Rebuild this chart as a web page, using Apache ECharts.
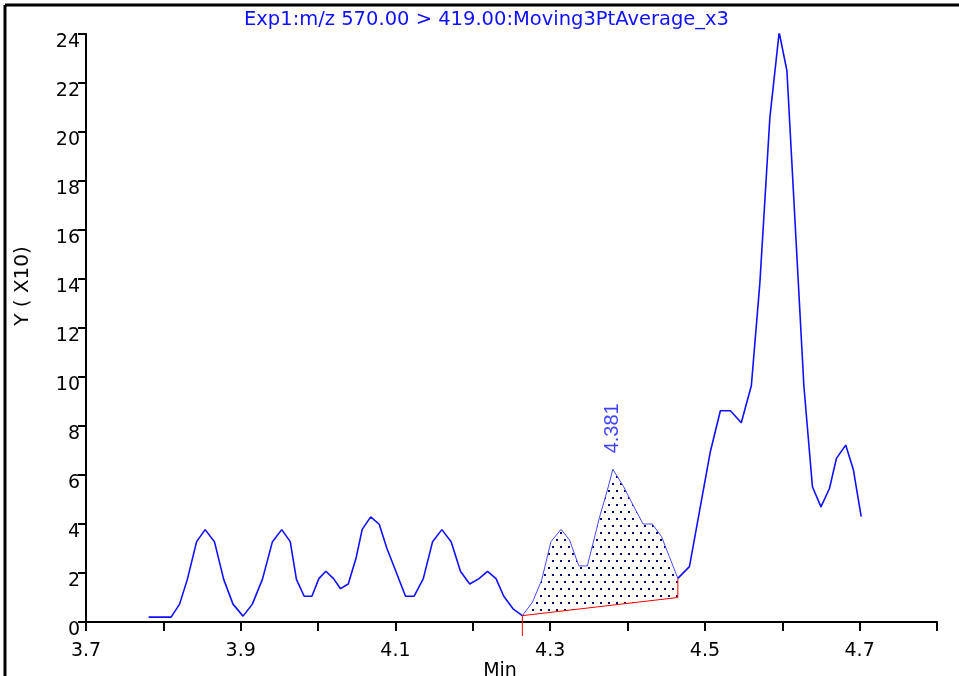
<!DOCTYPE html>
<html>
<head>
<meta charset="utf-8">
<script src="https://cdn.jsdelivr.net/npm/echarts@6/dist/echarts.min.js"></script>
<style>html,body{margin:0;padding:0;background:#fff}#c{width:959px;height:676px}</style>
</head>
<body>
<div id="c"></div>
<script>
// ---- data ----
const titleText = 'Exp1:m/z 570.00 > 419.00:Moving3PtAverage_x3';
const yAxisName = 'Y ( X10)';
const xAxisName = 'Min';
const times = [3.781,3.810,3.821,3.831,3.843,3.854,3.866,3.878,3.890,3.903,3.915,3.928,3.941,3.953,3.964,3.972,3.982,3.992,4.001,4.010,4.020,4.029,4.039,4.049,4.057,4.068,4.079,4.089,4.101,4.113,4.124,4.136,4.148,4.160,4.172,4.184,4.196,4.208,4.219,4.230,4.240,4.252,4.264,4.277,4.289,4.301,4.314,4.325,4.337,4.348,4.364,4.374,4.381,4.395,4.407,4.420,4.432,4.444,4.454,4.465,4.480,4.507,4.520,4.533,4.547,4.560,4.571,4.584,4.596,4.606,4.628,4.639,4.650,4.661,4.670,4.682,4.692,4.702];
const intensities = [0.2,0.2,0.73,1.74,3.28,3.77,3.28,1.74,0.73,0.24,0.73,1.74,3.28,3.77,3.28,1.74,1.05,1.05,1.77,2.07,1.77,1.36,1.55,2.6,3.78,4.29,3.99,3.0,2.03,1.05,1.05,1.77,3.28,3.77,3.28,2.07,1.55,1.77,2.07,1.77,1.05,0.54,0.26,0.80,1.71,3.28,3.78,3.35,2.29,2.29,4.30,5.39,6.23,5.52,4.78,4.0,4.0,3.48,2.67,1.78,2.26,6.95,8.62,8.62,8.13,9.64,13.82,20.6,24.07,22.5,9.6,5.52,4.7,5.45,6.68,7.22,6.2,4.3];
const integStartTime = 4.264, integEndTime = 4.465;
const baselineStartValue = 0.26, baselineEndValue = 1.0;
const startMarkerBottom = -0.57;
const peakTime = 4.381, peakValue = 6.23, peakLabel = '4.381';
const xMin = 3.7, xMax = 4.8, xInterval = 0.1;
const yMin = 0, yMax = 24, yInterval = 2;

// ---- build ----
const allPts = times.map((t, i) => [t, intensities[i]]);
const prePts = allPts.filter(p => p[0] <= integStartTime);
const postPts = allPts.filter(p => p[0] >= integEndTime);
const peakPts = allPts.filter(p => p[0] >= integStartTime && p[0] <= integEndTime);

const pc = document.createElement('canvas');
pc.width = 8; pc.height = 14;
const pctx = pc.getContext('2d');
pctx.fillStyle = '#000070';
pctx.fillRect(0, 0, 2, 2);
pctx.fillRect(4, 7, 2, 2);

const BLUE = '#1010ff';
const FONT = '"DejaVu Sans", Verdana, sans-serif';
const FONT2 = '"Liberation Sans", Arial, sans-serif';

const chart = echarts.init(document.getElementById('c'), null, {renderer: 'canvas'});
chart.setOption({
  animation: false,
  backgroundColor: '#fff',
  title: {
    text: titleText, left: 244, top: 10, padding: 0,
    textStyle: {color: BLUE, fontSize: 19.5, fontWeight: 'normal', fontFamily: FONT}
  },
  grid: {left: 86, right: 22, top: 34, bottom: 54},
  xAxis: {
    type: 'value', min: xMin, max: xMax, interval: xInterval,
    axisLine: {show: true, lineStyle: {color: '#000', width: 2}},
    axisTick: {show: true, length: 9, lineStyle: {color: '#000', width: 2}},
    axisLabel: {
      color: '#000', fontSize: 19, fontFamily: FONT, margin: 20,
      formatter: v => (Math.round(v * 10) % 2 === 1 ? v.toFixed(1) : '')
    },
    splitLine: {show: false}
  },
  yAxis: {
    type: 'value', min: yMin, max: yMax, interval: yInterval,
    axisLine: {show: true, lineStyle: {color: '#000', width: 2}},
    axisTick: {show: true, length: 8, lineStyle: {color: '#000', width: 2}},
    axisLabel: {color: '#000', fontSize: 19, fontFamily: FONT, margin: 6, verticalAlign: 'top', lineHeight: 16},
    splitLine: {show: false}
  },
  graphic: [
    {type: 'line', shape: {x1: 5, y1: 5, x2: 959, y2: 5}, style: {stroke: '#000', lineWidth: 3}},
    {type: 'line', shape: {x1: 5, y1: 5, x2: 5, y2: 676}, style: {stroke: '#000', lineWidth: 3}},
    {type: 'text', x: 23, y: 286, rotation: Math.PI / 2,
      style: {text: yAxisName, fill: '#000', font: '20px ' + FONT, textAlign: 'center', textVerticalAlign: 'middle'}},
    {type: 'text', x: 500, y: 662,
      style: {text: xAxisName, fill: '#000', font: '19px ' + FONT, textAlign: 'center', textVerticalAlign: 'top'}}
  ],
  series: [
    {
      type: 'custom', data: [0], z: 2,
      renderItem: (params, api) => {
        const curve = peakPts.map(p => api.coord(p));
        const poly = curve.concat([api.coord([integEndTime, baselineEndValue]), api.coord([integStartTime, baselineStartValue])]);
        return {
          type: 'group',
          children: [
            {type: 'polygon', shape: {points: poly}, style: {fill: {image: pc, repeat: 'repeat'}, stroke: null}},
            {type: 'polyline', shape: {points: curve}, style: {stroke: '#4a4aff', lineWidth: 1, fill: null}}
          ]
        };
      }
    },
    {type: 'line', data: prePts, symbol: 'none', lineStyle: {color: BLUE, width: 1.6}, z: 3},
    {type: 'line', data: postPts, symbol: 'none', lineStyle: {color: BLUE, width: 1.6}, z: 3},
    {type: 'line', data: [[integStartTime, baselineStartValue], [integEndTime, baselineEndValue]], symbol: 'none',
      lineStyle: {color: '#ff0000', width: 1}, z: 4},
    {type: 'line', data: [[integStartTime, startMarkerBottom], [integStartTime, baselineStartValue]], symbol: 'none',
      clip: false, lineStyle: {color: '#ff0000', width: 1}, z: 4},
    {type: 'line', data: [[integEndTime, baselineEndValue], [integEndTime, intensities[times.indexOf(integEndTime)]]], symbol: 'none',
      lineStyle: {color: '#ff0000', width: 1}, z: 4},
    {type: 'scatter', data: [[peakTime, peakValue]], symbolSize: 0, z: 5,
      label: {show: true, formatter: () => peakLabel, position: 'top', distance: 16, rotate: 90,
        align: 'left', verticalAlign: 'middle', color: BLUE, fontSize: 20, fontFamily: FONT2}}
  ]
});
</script>
</body>
</html>
